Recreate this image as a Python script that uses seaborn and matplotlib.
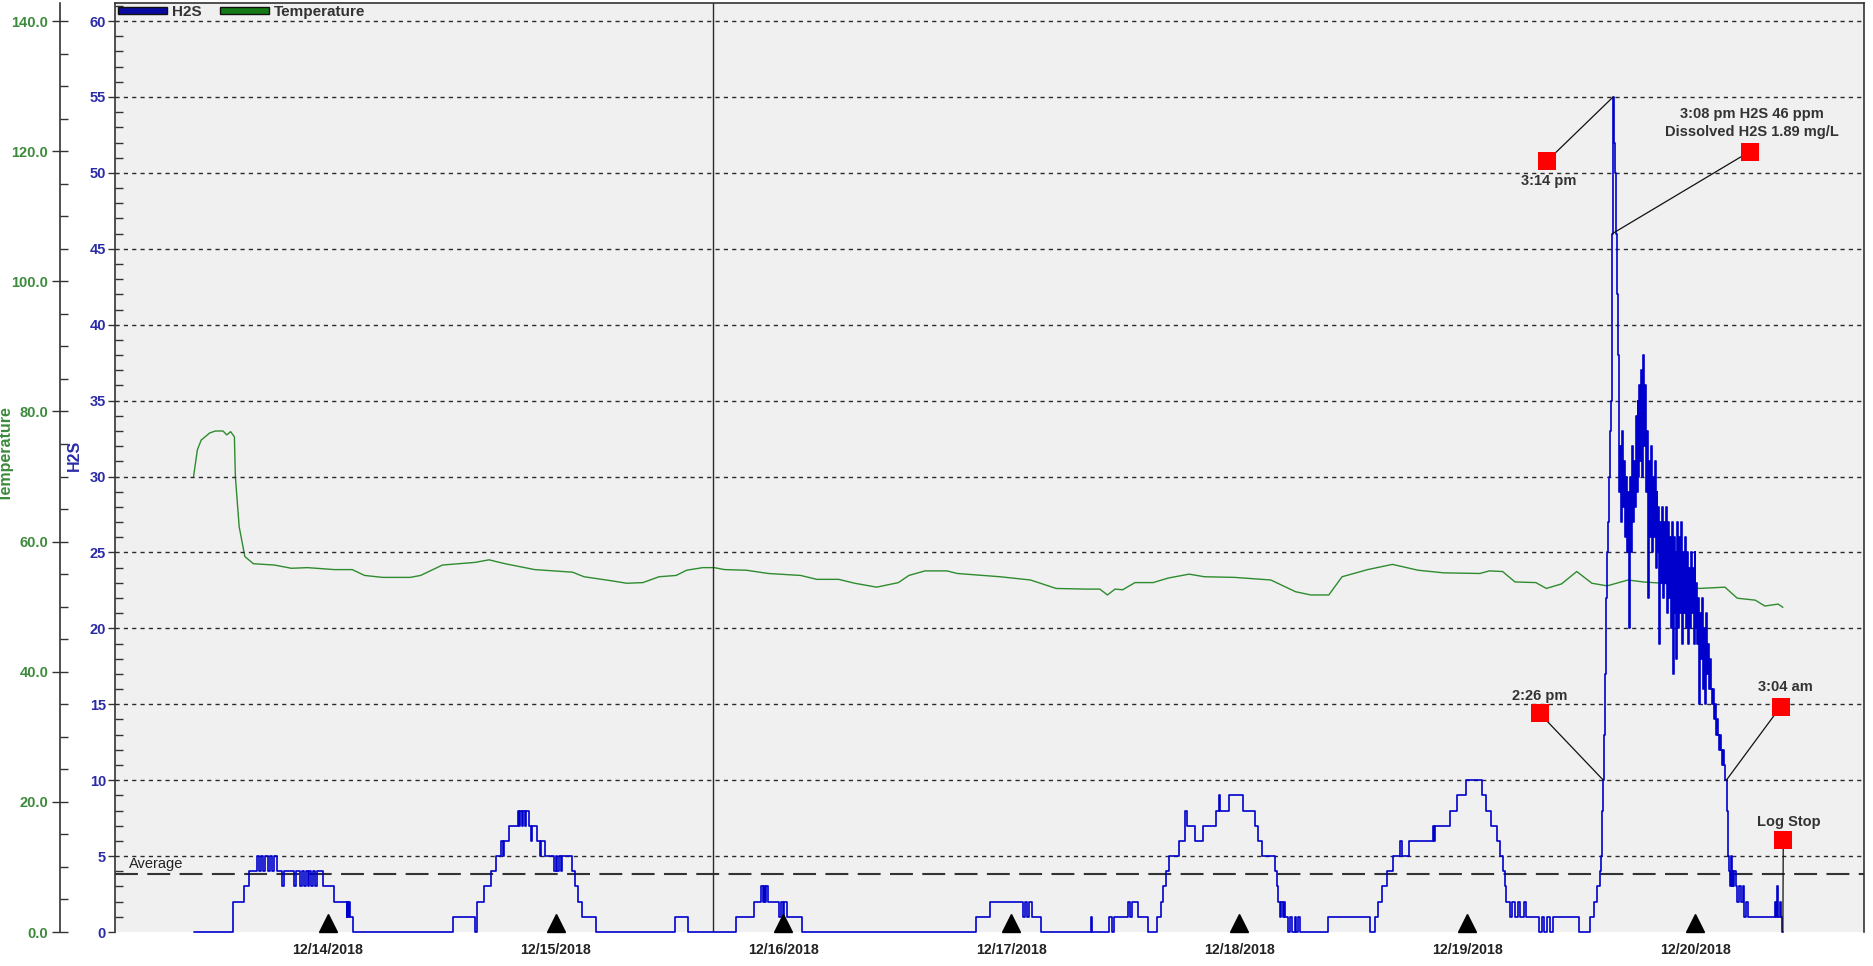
import numpy as np
import matplotlib
matplotlib.use("Agg")
import matplotlib.pyplot as plt
from matplotlib.patches import Patch
from matplotlib.ticker import MultipleLocator, FormatStrFormatter
import seaborn as sns

# ---------------- data (hours since 12/14/2018 tick) ----------------
day_ticks = [0, 24, 48, 72, 96, 120, 144]
day_labels = ["12/14/2018", "12/15/2018", "12/16/2018", "12/17/2018",
              "12/18/2018", "12/19/2018", "12/20/2018"]

# H2S (ppm) step data, segment by segment
seg_a_hours = [-14.1, -9.9, -8.8, -8.3, -7.4, -7.2, -7.0, -6.8, -6.6, -6.3, -6.1, -5.8,
               -5.6, -5.3, -4.8, -4.6, -3.5, -3.3, -2.9, -2.7, -2.5, -2.3, -2.1, -1.9,
               -1.7, -1.5, -1.3, -1.1, -0.5, 0.7, 2.0, 2.1, 2.2, 2.3, 2.4, 2.7]
seg_a_ppm = [0, 2, 3, 4, 5, 4, 5, 4, 5, 4, 5, 4, 5, 4, 3, 4, 3, 4, 3, 4, 3, 4, 3, 4,
             3, 4, 3, 4, 3, 2, 1, 2, 1, 2, 1, 0]

seg_b_hours = [13.2, 15.5, 15.7, 16.5, 17.2, 17.7, 18.3, 18.5, 18.6, 19.1, 20.0, 20.2,
               20.3, 20.5, 20.6, 20.8, 20.9, 21.2, 21.4, 21.5, 22.1, 22.4, 22.5, 22.9,
               23.8, 24.0, 24.2, 24.4, 24.6, 24.7, 25.7, 26.1, 26.4, 26.8, 28.3, 36.6, 37.9]
seg_b_ppm = [1, 0, 2, 3, 4, 5, 6, 5, 6, 7, 8, 7, 8, 7, 8, 7, 8, 7, 6, 7, 6, 5, 6, 5,
             4, 5, 4, 5, 4, 5, 4, 3, 2, 1, 0, 1, 0]

seg_c_hours = [43.0, 44.9, 45.6, 45.8, 45.9, 46.1, 46.2, 46.4, 47.5, 47.7, 47.9, 48.1, 48.4, 50.0]
seg_c_ppm = [1, 2, 3, 2, 3, 2, 3, 2, 1, 2, 1, 2, 1, 0]

seg_d_hours = [68.3, 69.7, 73.2, 73.4, 73.6, 73.8, 74.2, 75.1, 80.4, 80.5, 82.3, 82.6,
               82.8, 84.3, 84.5, 84.7, 85.3, 86.4, 87.3, 87.7, 88.0, 88.3, 88.6, 89.6,
               90.3, 90.5, 91.3, 92.2, 93.5, 93.8, 93.9, 94.9, 96.4, 97.6, 98.0, 98.4,
               99.7, 99.9, 100.1, 100.3, 100.4, 100.6, 100.7, 100.8, 101.1, 101.3, 101.5,
               101.8, 102.0, 102.2, 102.4]
seg_d_ppm = [1, 2, 1, 2, 1, 2, 1, 0, 1, 0, 1, 0, 1, 2, 1, 2, 1, 0, 1, 2, 3, 4, 5, 6,
             8, 7, 6, 7, 8, 9, 8, 9, 8, 7, 6, 5, 4, 3, 2, 1, 2, 1, 2, 1, 0, 1, 0, 1, 0, 1, 0]

seg_e_hours = [105.3, 109.7, 110.3, 110.6, 111.0, 111.5, 112.2, 112.9, 113.1, 113.8,
               116.4, 116.5, 116.6, 118.2, 118.9, 119.8, 121.5, 122.0, 122.5, 123.1,
               123.4, 123.7, 123.9, 124.1, 124.5, 124.7, 125.0, 125.3, 125.5, 125.9,
               126.2, 127.5, 127.8, 128.1, 128.4, 128.7, 129.0, 131.7, 132.9, 133.3,
               133.6, 133.9, 134.1, 134.2, 134.3, 134.4, 134.5, 134.6, 134.7, 134.8,
               134.9, 135.0, 135.1, 135.2, 135.3, 135.4, 135.5, 135.6, 135.7, 135.8]
seg_e_ppm = [1, 0, 1, 2, 3, 4, 5, 6, 5, 6, 7, 6, 7, 8, 9, 10, 9, 8, 7, 6, 5, 4, 3, 2, 1,
             2, 1, 2, 1, 2, 1, 0, 1, 0, 1, 0, 1, 0, 1, 2, 3, 4, 5, 8, 10, 13, 17, 22, 25,
             27, 30, 33, 35, 46, 55, 52, 50, 46, 42, 38]

seg_f_hours = [135.9, 136.0, 136.1, 136.2, 136.3, 136.4, 136.5, 136.6, 136.7, 136.8,
               136.9, 137.0, 137.1, 137.2, 137.3, 137.4, 137.5, 137.6, 137.7, 137.8,
               137.9, 138.0, 138.1, 138.2, 138.3, 138.4, 138.5, 138.6, 138.7, 138.8,
               138.9, 139.0, 139.1, 139.2, 139.3, 139.4, 139.5, 139.6, 139.7, 139.8,
               139.9, 140.0, 140.1, 140.2, 140.3, 140.4, 140.5, 140.6, 140.7, 140.8,
               140.9, 141.0, 141.1, 141.2, 141.3, 141.4, 141.5, 141.6, 141.7, 141.8,
               141.9, 142.0, 142.1, 142.2, 142.3, 142.4, 142.5, 142.6, 142.7, 142.8,
               142.9, 143.0, 143.1, 143.2, 143.3, 143.4, 143.5, 143.6, 143.7, 143.8,
               143.9, 144.0, 144.1, 144.2, 144.3, 144.4, 144.5, 144.6, 144.7, 144.8,
               144.9, 145.0, 145.1, 145.2, 145.3, 145.4, 145.5, 145.6, 145.7, 145.8,
               145.9, 146.0, 146.1, 146.2, 146.3, 146.4, 146.5, 146.6, 146.7, 146.8,
               146.9, 147.0, 147.1, 147.2, 147.3, 147.4]
seg_f_ppm = [35, 29, 32, 27, 33, 28, 31, 26, 30, 25,
             29, 20, 30, 25, 32, 27, 31, 28, 34, 29,
             35, 30, 36, 31, 37, 30, 38, 32, 36, 29,
             33, 22, 31, 26, 32, 25, 30, 26, 31, 24,
             29, 25, 28, 19, 27, 23, 28, 22, 27, 23,
             28, 21, 27, 22, 26, 20, 27, 17, 26, 21,
             25, 18, 27, 20, 26, 21, 27, 19, 25, 21,
             26, 20, 25, 19, 24, 20, 25, 21, 24, 19,
             25, 20, 23, 19, 22, 15, 21, 18, 22, 16,
             20, 15, 21, 17, 19, 16, 18, 16, 15, 16,
             15, 14, 15, 13, 14, 13, 12, 13, 12, 11,
             12, 11, 10, 10, 8, 5]

seg_g_hours = [147.5, 147.6, 147.7, 147.8, 147.9, 148.0, 148.1, 148.3, 148.4, 148.6,
               148.8, 149.0, 149.1, 149.3, 149.5, 152.4, 152.5, 152.6, 152.7, 152.9,
               153.0, 153.1, 153.2]
seg_g_ppm = [4, 3, 5, 3, 4, 3, 4, 3, 2, 3, 2, 3, 1, 2, 1, 2, 1, 3, 1, 2, 1, 0, 0]

# Temperature
temp_hours = [-14.1, -13.7, -13.3, -12.4, -11.8, -11.0, -10.6, -10.2, -9.8, -9.7,
              -9.3, -8.7, -7.8, -5.6, -3.8, -2.1, 0.7, 2.6, 3.9, 5.8,
              8.7, 9.8, 12.1, 15.5, 17.0, 18.7, 21.8, 25.8, 27.0, 29.8,
              31.5, 33.2, 34.9, 36.7, 37.8, 39.5, 40.7, 41.8, 44.1, 46.4,
              49.8, 51.5, 53.8, 55.5, 57.8, 60.1, 61.2, 62.9, 65.2, 66.3,
              70.8, 74.0, 76.7, 79.9, 81.3, 82.1, 82.9, 83.7, 85.0, 86.9,
              88.5, 90.7, 92.3, 95.5, 99.3, 101.9, 103.5, 105.4, 106.8, 109.5,
              112.1, 114.8, 117.5, 121.3, 122.3, 123.7, 125.0, 127.2, 128.3, 129.9,
              131.5, 133.1, 134.7, 136.9, 138.5, 140.6, 144.4, 147.1, 148.4, 150.3,
              151.3, 152.7, 153.2]
temp_deg = [70.0, 74.1, 75.6, 76.7, 77.0, 77.0, 76.4, 76.9, 76.1, 70.0,
            62.3, 57.7, 56.6, 56.4, 55.9, 56.0, 55.7, 55.7, 54.8, 54.5,
            54.5, 54.8, 56.4, 56.8, 57.2, 56.6, 55.7, 55.3, 54.6, 54.0,
            53.6, 53.7, 54.6, 54.8, 55.6, 56.0, 56.0, 55.7, 55.6, 55.1,
            54.8, 54.2, 54.2, 53.6, 53.0, 53.7, 54.8, 55.5, 55.5, 55.1,
            54.6, 54.1, 52.8, 52.7, 52.7, 51.8, 52.7, 52.6, 53.7, 53.7,
            54.4, 55.0, 54.6, 54.5, 54.1, 52.3, 51.8, 51.8, 54.6, 55.7,
            56.5, 55.6, 55.2, 55.1, 55.5, 55.4, 53.8, 53.7, 52.8, 53.5,
            55.4, 53.6, 53.2, 54.1, 53.8, 53.6, 52.8, 53.0, 51.3, 51.0,
            50.1, 50.4, 49.9]

average_ppm = 3.85
cursor_hour = 40.6

note_labels = ["3:14 pm", "3:08 pm H2S 46 ppm\nDissolved H2S 1.89 mg/L",
               "2:26 pm", "3:04 am", "Log Stop"]
note_point_hours = [135.33, 135.25, 134.3, 147.25, 153.2]
note_point_ppm = [55, 46, 10, 10, 0]
note_box_hours = [128.4, 149.7, 127.6, 152.96, 153.24]
note_box_ppm = [50.8, 51.4, 14.4, 14.84, 6.06]
note_text_hours = [128.6, 149.9, 127.6, 153.5, 153.8]
note_text_ppm = [49.45, 53.31, 15.57, 16.12, 7.27]

h2s_hours = seg_a_hours + seg_b_hours + seg_c_hours + seg_d_hours + seg_e_hours + seg_f_hours + seg_g_hours
h2s_ppm = seg_a_ppm + seg_b_ppm + seg_c_ppm + seg_d_ppm + seg_e_ppm + seg_f_ppm + seg_g_ppm
assert len(h2s_hours) == len(h2s_ppm)
assert len(temp_hours) == len(temp_deg)

# ---------------- style ----------------
sns.set_style("white")
plt.rcParams["font.family"] = ["Liberation Sans", "DejaVu Sans"]
plt.rcParams["font.weight"] = "bold"

BLUE = "#0000CD"
GREEN = "#2E8B2E"
DARK = "#2a2a2a"

fig = plt.figure(figsize=(18.74, 9.66), dpi=100)
ax = fig.add_axes([115 / 1874, 1 - 932 / 966, (1864 - 115) / 1874, (932 - 3) / 966])
ax2 = ax.twinx()

# temperature axis behind H2S axis
ax.set_zorder(ax2.get_zorder() + 1)
ax.patch.set_visible(False)
ax2.patch.set_visible(True)
ax2.patch.set_facecolor("#F0F0F0")

ax.set_xlim(-22.37, 161.74)
ax.set_ylim(0, 61.19)
ax2.set_ylim(0, 142.78)

# gridlines
for lvl in range(5, 61, 5):
    ax.axhline(lvl, color=DARK, lw=1.0, linestyle=(0, (3, 3)), zorder=1)

# lines
sns.lineplot(x=temp_hours, y=temp_deg, ax=ax2, color=GREEN, linewidth=1.0,
             estimator=None, sort=False, legend=False)
sns.lineplot(x=h2s_hours, y=h2s_ppm, ax=ax, color=BLUE, linewidth=1.2,
             drawstyle="steps-post", estimator=None, sort=False, legend=False,
             zorder=3)
for ln in ax.get_lines():
    ln.set_clip_on(False)

ax.axhline(average_ppm, color="#333333", lw=1.5, dashes=(11, 4.5), zorder=2)
ax.text(-20.9, average_ppm + 0.6, "Average", fontsize=10.5, fontweight="normal",
        color="#222222", ha="left", va="center")
ax.axvline(cursor_hour, color=DARK, lw=1.0, zorder=2)

# day markers
ax.plot(day_ticks, [0.56] * len(day_ticks), linestyle="none", marker="^",
        color="black", markersize=12.5, clip_on=False, zorder=5)

# annotations
for lab, ph, pv, bh, bv, th, tv in zip(note_labels, note_point_hours, note_point_ppm,
                                       note_box_hours, note_box_ppm,
                                       note_text_hours, note_text_ppm):
    ax.plot([bh, ph], [bv, pv], color="#111111", lw=0.9, zorder=6, clip_on=False)
    ax.plot([bh], [bv], marker="s", color="#FF0000", markersize=13,
            markeredgewidth=0, zorder=7, linestyle="none")
    ax.text(th, tv, lab, fontsize=10.5, color="#333333", ha="center", va="center",
            multialignment="center", linespacing=1.35, zorder=8)

# spines
for side in ["top", "right", "left"]:
    ax.spines[side].set_visible(True)
    ax.spines[side].set_color("#333333")
    ax.spines[side].set_linewidth(1.2)
ax.spines["bottom"].set_visible(False)
for side in ["top", "right", "bottom"]:
    ax2.spines[side].set_visible(False)
ax2.spines["left"].set_visible(True)
ax2.spines["left"].set_position(("outward", 39.6))
ax2.spines["left"].set_color("#333333")
ax2.spines["left"].set_linewidth(1.2)
ax2.yaxis.tick_left()
ax2.yaxis.set_label_position("left")

# ticks
ax.set_yticks(np.arange(0, 61, 5))
ax.yaxis.set_minor_locator(MultipleLocator(1))
ax.tick_params(axis="y", which="major", direction="out", length=5, width=1,
               pad=1.5, labelsize=10.5, labelcolor="#2B2BA8", color="#333333",
               left=True, right=False)
ax.tick_params(axis="y", which="minor", direction="in", length=5.5, width=1,
               color="#333333", left=True, right=False)
ax.set_xticks(day_ticks, day_labels)
ax.tick_params(axis="x", which="major", direction="out", length=6, width=1,
               pad=2, labelsize=10.2, labelcolor="#222222", color="#222222")
ax.set_xlabel("")
ax.set_ylabel("")

ax2.yaxis.set_major_locator(MultipleLocator(20))
ax2.yaxis.set_minor_locator(MultipleLocator(5))
ax2.yaxis.set_major_formatter(FormatStrFormatter("%.1f"))
ax2.tick_params(axis="y", which="major", direction="inout", length=11, width=1,
                pad=3, labelsize=10.5, labelcolor="#3C8A3C", color="#333333",
                left=True, right=False, labelleft=True, labelright=False)
ax2.tick_params(axis="y", which="minor", direction="in", length=6, width=1,
                color="#333333", left=True, right=False)
ax2.set_ylabel("")

# legend
handles = [Patch(facecolor="#0A0AA0", edgecolor="#111111", linewidth=1),
           Patch(facecolor="#157A15", edgecolor="#111111", linewidth=1)]
leg = ax.legend(handles, ["H2S", "Temperature"], loc="center left",
                bbox_to_anchor=(0.0015, 0.9903), ncol=2, frameon=False,
                handlelength=3.2, handleheight=0.32, handletextpad=0.35,
                columnspacing=1.2, borderaxespad=0, borderpad=0, fontsize=11)
for t in leg.get_texts():
    t.set_color("#333333")

# axis titles
fig.text(74.5 / 1874, 1 - 455 / 966, "H2S", rotation=90, ha="center", va="center",
         color="#2B2BA8", fontsize=11.5)
fig.text(6 / 1874, 1 - 454 / 966, "Temperature", rotation=90, ha="center",
         va="center", color="#3C8A3C", fontsize=11.5)

fig.savefig("out.png", dpi=100)
